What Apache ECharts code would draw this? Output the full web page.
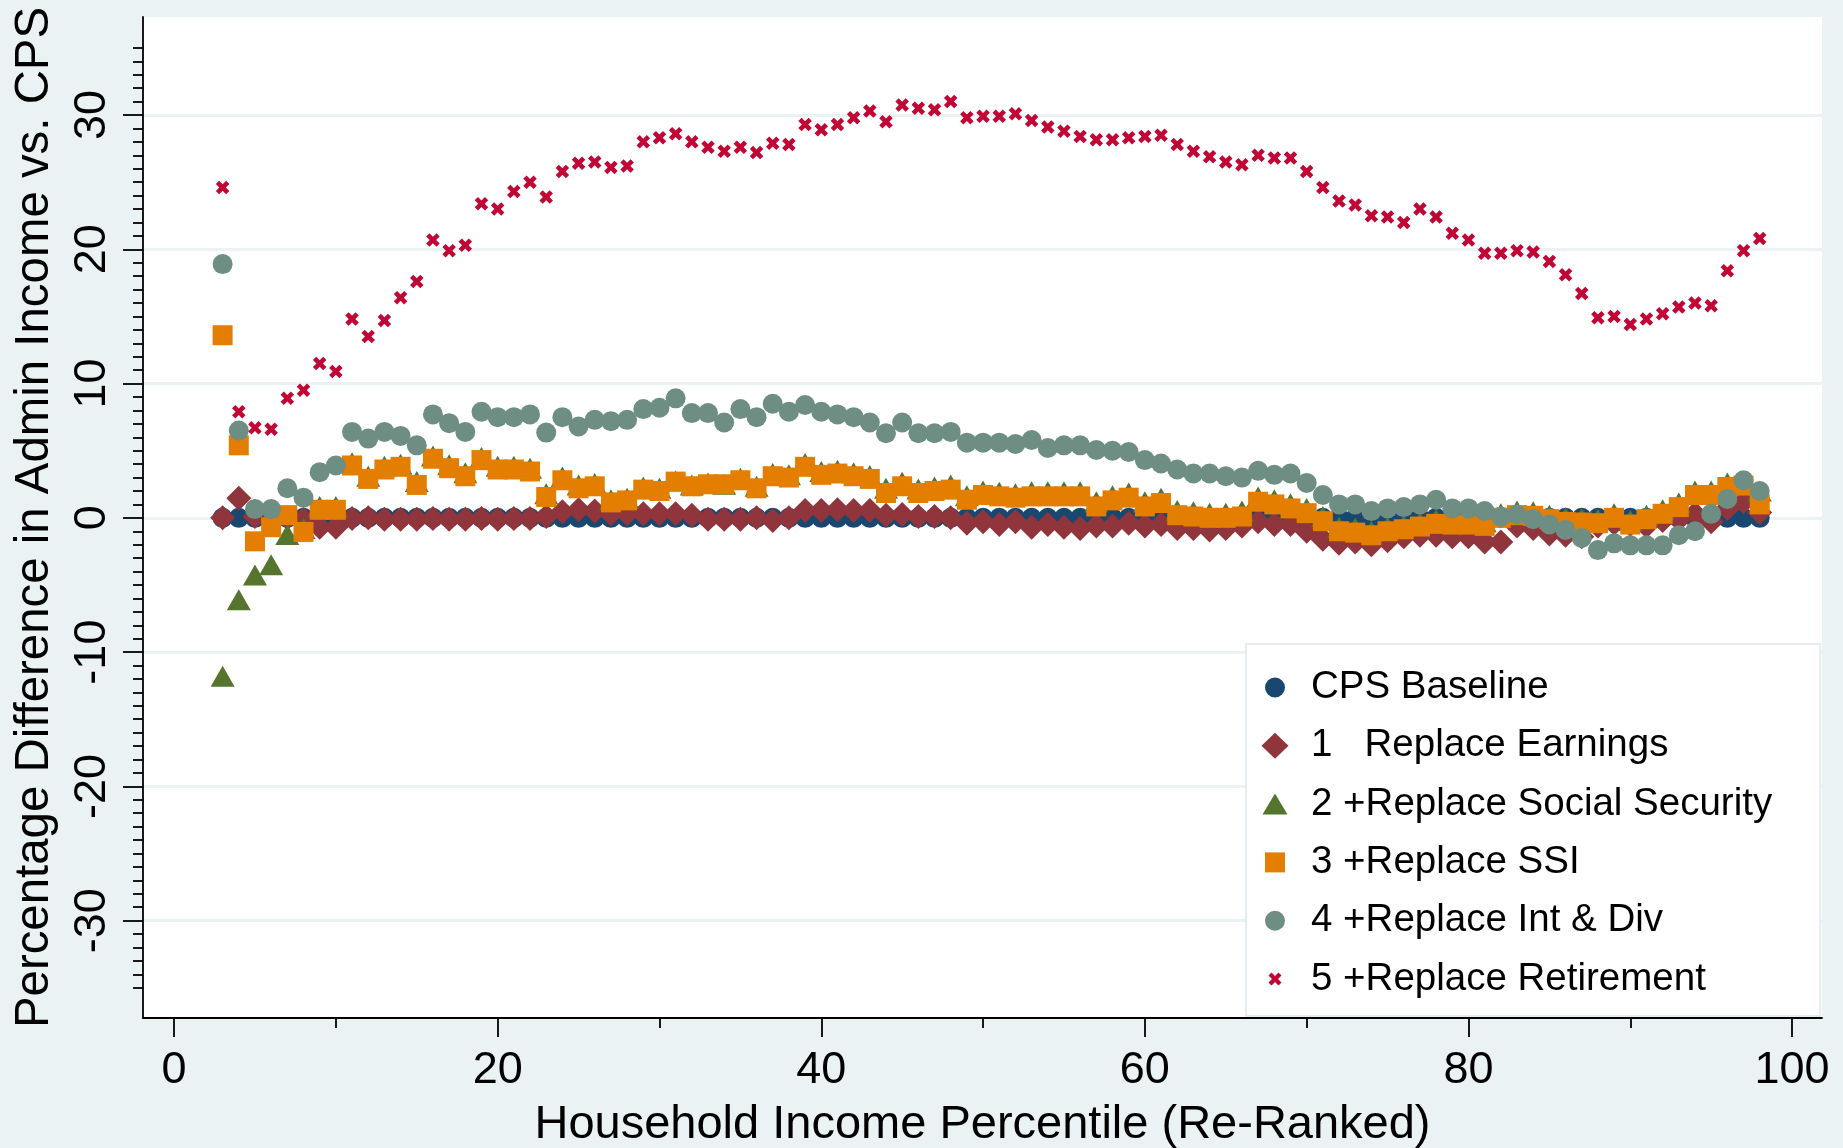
<!DOCTYPE html>
<html>
<head>
<meta charset="utf-8">
<title>Percentage Difference in Admin Income vs. CPS</title>
<script src="https://cdn.jsdelivr.net/npm/echarts@6.0.0/dist/echarts.min.js"></script>
<style>
html,body{margin:0;padding:0;background:#EAF2F3;overflow:hidden;}
#chart{width:1843px;height:1148px;}
</style>
</head>
<body>
<div id="chart"></div>
<script>
// ---------------- DATA ----------------
const percentiles = [
  3, 4, 5, 6, 7, 8, 9, 10, 11, 12,
  13, 14, 15, 16, 17, 18, 19, 20, 21, 22,
  23, 24, 25, 26, 27, 28, 29, 30, 31, 32,
  33, 34, 35, 36, 37, 38, 39, 40, 41, 42,
  43, 44, 45, 46, 47, 48, 49, 50, 51, 52,
  53, 54, 55, 56, 57, 58, 59, 60, 61, 62,
  63, 64, 65, 66, 67, 68, 69, 70, 71, 72,
  73, 74, 75, 76, 77, 78, 79, 80, 81, 82,
  83, 84, 85, 86, 87, 88, 89, 90, 91, 92,
  93, 94, 95, 96, 97, 98
];

const cpsBaseline = [
  0, 0, 0, 0, 0, 0, 0, 0, 0, 0,
  0, 0, 0, 0, 0, 0, 0, 0, 0, 0,
  0, 0, 0, 0, 0, 0, 0, 0, 0, 0,
  0, 0, 0, 0, 0, 0, 0, 0, 0, 0,
  0, 0, 0, 0, 0, 0, 0, 0, 0, 0,
  0, 0, 0, 0, 0, 0, 0, 0, 0, 0,
  0, 0, 0, 0, 0, 0, 0, 0, 0, 0,
  0, 0, 0, 0, 0, 0, 0, 0, 0, 0,
  0, 0, 0, 0, 0, 0, 0, 0, 0, 0,
  0, 0, 0, 0, 0, 0
];

const replaceEarnings = [
  0, 1.45, 0.1, -0.2, 0.0, -0.1, -0.7, -0.7, -0.05, 0.0,
  -0.1, -0.1, -0.1, -0.05, -0.1, -0.1, -0.05, -0.1, -0.05, -0.05,
  0.1, 0.45, 0.6, 0.5, 0.3, 0.3, 0.3, 0.3, 0.3, 0.2,
  -0.1, -0.1, -0.1, 0.0, -0.2, 0.0, 0.55, 0.55, 0.6, 0.55,
  0.55, 0.2, 0.25, 0.1, 0.1, 0.0, -0.4, -0.3, -0.5, -0.3,
  -0.7, -0.5, -0.7, -0.8, -0.6, -0.6, -0.4, -0.6, -0.5, -0.8,
  -0.8, -0.9, -0.8, -0.6, -0.3, -0.5, -0.5, -1.0, -1.6, -1.9,
  -1.8, -2.0, -1.7, -1.4, -1.3, -1.3, -1.4, -1.4, -1.8, -1.8,
  -0.6, -0.8, -1.2, -1.3, -1.4, -0.6, -0.4, -0.5, -0.6, -0.2,
  -0.1, 0.3, -0.3, 0.7, 1.2, 0.4
];

const replaceSocialSecurity = [
  -11.8, -6.1, -4.25, -3.5, -1.25, -0.8, 0.85, 0.85, 4.1, 3.1,
  3.85, 4.0, 2.7, 4.6, 3.95, 3.35, 4.5, 3.85, 3.85, 3.7,
  1.8, 3.05, 2.45, 2.55, 1.35, 1.45, 2.3, 2.2, 2.75, 2.45,
  2.6, 2.5, 2.95, 2.35, 3.3, 3.2, 4.05, 3.45, 3.55, 3.35,
  3.15, 2.2, 2.65, 2.15, 2.3, 2.45, 1.65, 2.0, 1.9, 1.8,
  1.95, 1.95, 1.95, 1.95, 1.2, 1.65, 1.85, 1.2, 1.45, 0.55,
  0.45, 0.35, 0.35, 0.5, 1.55, 1.35, 1.05, 0.7, 0.1, -0.7,
  -0.75, -1.0, -0.7, -0.55, -0.35, -0.15, -0.2, -0.2, -0.3, 0.3,
  0.5, 0.45, 0.2, 0.0, -0.05, -0.1, 0.3, -0.2, 0.2, 0.6,
  1.1, 2.0, 2.0, 2.6, 2.7, 2.0
];

const replaceSSI = [
  13.6, 5.4, -1.75, -0.7, 0.2, -1.05, 0.6, 0.6, 3.9, 2.9,
  3.6, 3.8, 2.45, 4.4, 3.7, 3.1, 4.3, 3.6, 3.6, 3.45,
  1.55, 2.8, 2.2, 2.35, 1.15, 1.3, 2.1, 2.0, 2.7, 2.35,
  2.5, 2.5, 2.8, 2.2, 3.1, 3.0, 3.8, 3.2, 3.3, 3.1,
  2.9, 1.85, 2.35, 1.85, 2.0, 2.1, 1.35, 1.7, 1.6, 1.5,
  1.6, 1.6, 1.6, 1.6, 0.85, 1.3, 1.5, 0.85, 1.1, 0.2,
  0.1, 0.0, 0.0, 0.1, 1.2, 1.0, 0.7, 0.35, -0.25, -1.0,
  -1.1, -1.3, -1.0, -0.85, -0.65, -0.45, -0.5, -0.5, -0.6, 0.0,
  0.2, 0.15, -0.1, -0.3, -0.35, -0.4, 0.0, -0.5, -0.1, 0.3,
  0.8, 1.7, 1.7, 2.3, 2.4, 1.0
];

const replaceIntDiv = [
  18.9, 6.5, 0.65, 0.65, 2.2, 1.5, 3.4, 3.9, 6.4, 5.9,
  6.4, 6.1, 5.4, 7.7, 7.05, 6.4, 7.9, 7.5, 7.5, 7.7,
  6.35, 7.5, 6.8, 7.3, 7.2, 7.3, 8.1, 8.2, 8.9, 7.8,
  7.8, 7.1, 8.1, 7.5, 8.5, 7.9, 8.4, 7.9, 7.7, 7.5,
  7.1, 6.3, 7.1, 6.3, 6.3, 6.4, 5.6, 5.6, 5.6, 5.5,
  5.8, 5.2, 5.4, 5.4, 5.05, 5.0, 4.9, 4.3, 4.05, 3.6,
  3.3, 3.3, 3.1, 3.0, 3.5, 3.2, 3.3, 2.6, 1.7, 1.0,
  1.0, 0.5, 0.7, 0.8, 1.0, 1.35, 0.7, 0.7, 0.5, 0.1,
  0.25, -0.1, -0.5, -0.9, -1.5, -2.4, -1.9, -2.05, -2.05, -2.05,
  -1.3, -1.0, 0.3, 1.4, 2.8, 2.0
];

const replaceRetirement = [
  24.6, 7.9, 6.7, 6.6, 8.9, 9.5, 11.5, 10.9, 14.8, 13.5,
  14.7, 16.4, 17.6, 20.7, 19.9, 20.3, 23.4, 23.0, 24.3, 25.0,
  23.9, 25.8, 26.4, 26.5, 26.1, 26.2, 28.0, 28.3, 28.6, 28.0,
  27.6, 27.3, 27.6, 27.2, 27.9, 27.8, 29.3, 28.9, 29.3, 29.8,
  30.3, 29.5, 30.75, 30.5, 30.4, 31.0, 29.8, 29.9, 29.9, 30.1,
  29.6, 29.1, 28.8, 28.4, 28.15, 28.15, 28.3, 28.4, 28.5, 27.8,
  27.3, 26.9, 26.5, 26.3, 27.0, 26.8, 26.8, 25.8, 24.6, 23.6,
  23.3, 22.5, 22.4, 22.0, 23.0, 22.4, 21.2, 20.7, 19.7, 19.7,
  19.9, 19.8, 19.1, 18.1, 16.7, 14.9, 15.0, 14.4, 14.8, 15.2,
  15.7, 16.0, 15.8, 18.4, 19.9, 20.8
];

const seriesNames = [
  'CPS Baseline',
  '1   Replace Earnings',
  '2 +Replace Social Security',
  '3 +Replace SSI',
  '4 +Replace Int & Div',
  '5 +Replace Retirement'
];

const xTickLabels = [0, 20, 40, 60, 80, 100];
const xMinorTicks = [10, 30, 50, 70, 90];
const yTickLabels = [-30, -20, -10, 0, 10, 20, 30];
const yMinorTicks = [
  -35, -34, -33, -32, -31, -29, -28, -27, -26, -25, -24, -23, -22, -21,
  -19, -18, -17, -16, -15, -14, -13, -12, -11, -9, -8, -7, -6, -5, -4, -3, -2, -1,
  1, 2, 3, 4, 5, 6, 7, 8, 9, 11, 12, 13, 14, 15, 16, 17, 18, 19,
  21, 22, 23, 24, 25, 26, 27, 28, 29, 31, 32, 33, 34, 35
];

const xTitle = 'Household Income Percentile (Re-Ranked)';
const yTitle = 'Percentage Difference in Admin Income vs. CPS';

// ---------------- STYLE ----------------
const FONT = '"Liberation Sans", Arial, Helvetica, sans-serif';
const BG = '#EAF2F3';
const INK = '#000000';
const X_RANGE = [-1.92, 101.85];
const Y_RANGE = [-37.25, 37.3];

const colors = ['#1A476F', '#90353B', '#55752F', '#E37E00', '#6E8E84', '#C10534'];
const xMarker = 'path://M0,2.4L2.4,0L5,2.6L7.6,0L10,2.4L7.4,5L10,7.6L7.6,10L5,7.4L2.4,10L0,7.6L2.6,5Z';
const symbols = ['circle', 'diamond', 'triangle', 'rect', 'circle', xMarker];
const symbolSizes = [20, [25, 25], [24, 21], [20, 20], 20, 13.5];

const PAD = 'path://M0,0M50,30';
const legendIcons = [
  PAD + 'M29,15A10,10,0,1,1,9,15A10,10,0,1,1,29,15Z',
  PAD + 'M19,2L32.5,15L19,28L5.5,15Z',
  PAD + 'M19,4.5L31.5,25.5L6.5,25.5Z',
  PAD + 'M9,5L29,5L29,25L9,25Z',
  PAD + 'M29,15A10,10,0,1,1,9,15A10,10,0,1,1,29,15Z',
  PAD + 'M12.5,11.5L15.5,8.5L19,12L22.5,8.5L25.5,11.5L22,15L25.5,18.5L22.5,21.5L19,18L15.5,21.5L12.5,18.5L16,15Z'
];

const seriesValues = [cpsBaseline, replaceEarnings, replaceSocialSecurity, replaceSSI, replaceIntDiv, replaceRetirement];

const lineStyle = {color: INK, width: 1.8};

const option = {
  backgroundColor: BG,
  animation: false,
  textStyle: {fontFamily: FONT},
  grid: {
    left: 143, top: 17, right: 21, bottom: 130,
    show: true, backgroundColor: '#FFFFFF', borderWidth: 0,
    containLabel: false, outerBoundsMode: 'none'
  },
  xAxis: [
    {
      type: 'value', min: X_RANGE[0], max: X_RANGE[1], position: 'bottom',
      axisLine: {show: true, onZero: false, lineStyle: lineStyle},
      axisTick: {show: true, customValues: xTickLabels, length: 19, lineStyle: lineStyle},
      axisLabel: {show: true, customValues: xTickLabels, margin: 30, fontSize: 45, color: INK, fontFamily: FONT},
      splitLine: {show: false}, minorTick: {show: false}, minorSplitLine: {show: false},
      name: xTitle, nameLocation: 'middle', nameGap: 84, nameMoveOverlap: false,
      nameTextStyle: {fontSize: 47, color: INK, fontFamily: FONT}
    },
    {
      type: 'value', min: X_RANGE[0], max: X_RANGE[1], position: 'bottom',
      axisLine: {show: false, onZero: false},
      axisTick: {show: true, customValues: xMinorTicks, length: 10, lineStyle: lineStyle},
      axisLabel: {show: false}, splitLine: {show: false}
    }
  ],
  yAxis: [
    {
      type: 'value', min: Y_RANGE[0], max: Y_RANGE[1], position: 'left',
      axisLine: {show: true, onZero: false, lineStyle: lineStyle},
      axisTick: {show: true, customValues: yTickLabels, length: 20, lineStyle: lineStyle},
      axisLabel: {show: true, customValues: yTickLabels, rotate: 90, margin: 28, fontSize: 45, color: INK, fontFamily: FONT},
      splitLine: {show: true, lineStyle: {color: BG, width: 3}},
      minorTick: {show: false}, minorSplitLine: {show: false},
      name: yTitle, nameLocation: 'middle', nameGap: 85, nameRotate: 90, nameMoveOverlap: false,
      nameTextStyle: {fontSize: 47.4, color: INK, fontFamily: FONT}
    },
    {
      type: 'value', min: Y_RANGE[0], max: Y_RANGE[1], position: 'left',
      axisLine: {show: false, onZero: false},
      axisTick: {show: true, customValues: yMinorTicks, length: 10, lineStyle: lineStyle},
      axisLabel: {show: false}, splitLine: {show: false}
    }
  ],
  legend: {
    orient: 'vertical', left: 1246, top: 644,
    padding: [23.5, 48, 17, 10],
    itemWidth: 50, itemHeight: 30, itemGap: 18.3,
    backgroundColor: '#FFFFFF', borderColor: '#E3ECEE', borderWidth: 2, borderRadius: 0,
    textStyle: {fontSize: 38.5, color: INK, fontFamily: FONT, lineHeight: 40},
    selectedMode: false,
    data: seriesNames.map((n, i) => ({name: n, icon: legendIcons[i]}))
  },
  series: seriesValues.map((vals, i) => ({
    type: 'scatter',
    name: seriesNames[i],
    xAxisIndex: 0, yAxisIndex: 0,
    data: percentiles.map((p, j) => [p, vals[j]]),
    symbol: symbols[i],
    symbolSize: symbolSizes[i],
    itemStyle: {color: colors[i], opacity: 1, borderWidth: 0},
    emphasis: {disabled: true},
    silent: true,
    z: 2
  }))
};

const chart = echarts.init(document.getElementById('chart'), null, {renderer: 'canvas'});
chart.setOption(option);
</script>
</body>
</html>
